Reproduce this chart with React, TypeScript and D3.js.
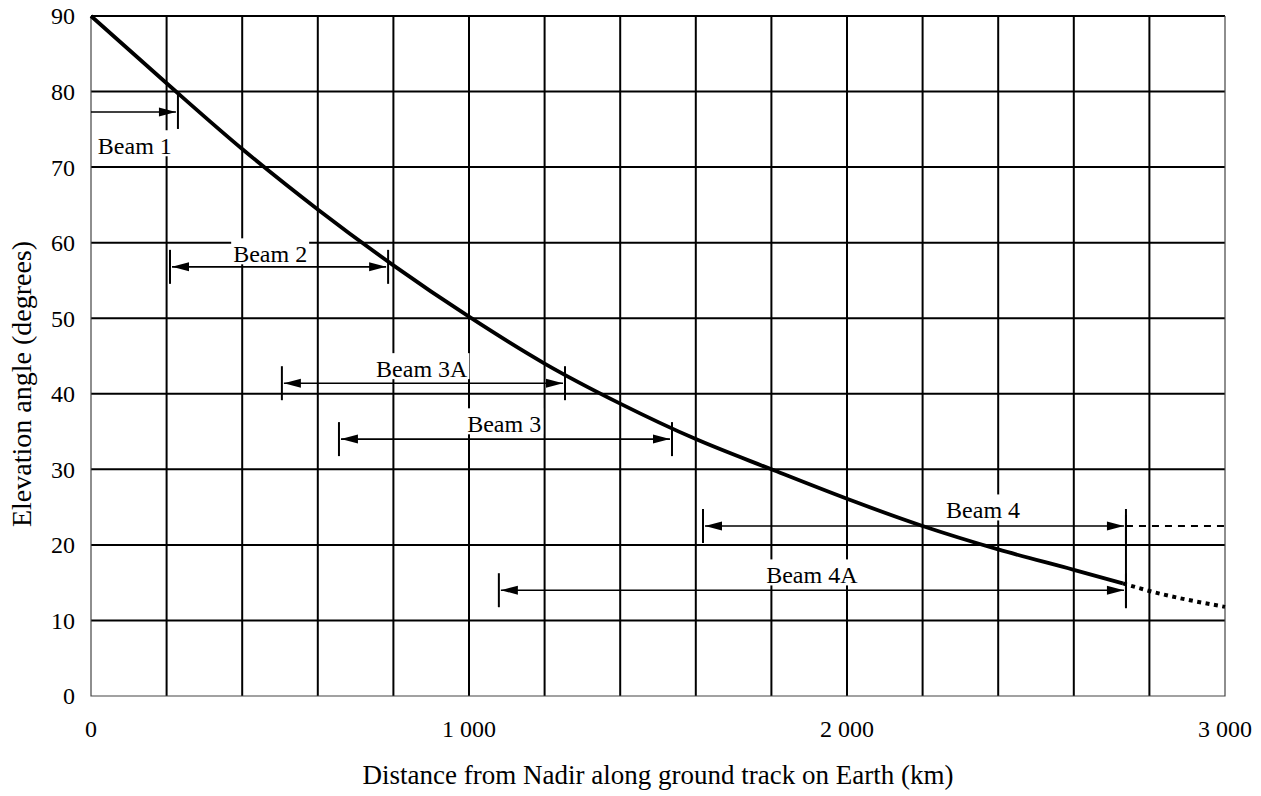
import React, { useEffect, useRef } from "react";
import * as d3 from "d3";

// ---- Data ----
const distKm = [0, 200, 400, 600, 800, 1000, 1200, 1400, 1600, 1800, 2000, 2200, 2400, 2600, 2730];
const elevDeg = [90, 81.1, 72.4, 64.4, 57.0, 50.2, 44.0, 38.7, 34.0, 30.0, 26.1, 22.5, 19.4, 16.7, 14.9];
const extKm = [2730, 2800, 3000];
const extDeg = [14.9, 13.9, 11.8];

const beamNames = ["Beam 1", "Beam 2", "Beam 3A", "Beam 3", "Beam 4", "Beam 4A"];
const beamStartKm = [0, 209, 505, 656, 1619, 1079];
const beamEndKm = [230, 786, 1254, 1537, 2738, 2738];
const beamElev = [77.3, 56.8, 41.4, 34.0, 22.5, 14.0];
const beamLabelKm = [116, 474, 875, 1093, 2360, 1907];
const beamLabelDeg = [71.7, 57.4, 42.2, 34.9, 23.5, 14.9];
const beam4ExtKm = [2738, 3000];

const xTickValues = [0, 1000, 2000, 3000];
const xGridValues = d3.range(200, 3000, 200);
const yTickValues = d3.range(0, 91, 10);
const yGridValues = d3.range(10, 91, 10);

const xTitle = "Distance from Nadir along ground track on Earth (km)";
const yTitle = "Elevation angle (degrees)";

const W = 1261;
const H = 796;
const M = { left: 91, right: 1225, top: 16, bottom: 696 };
const FONT = "'Liberation Serif', 'Times New Roman', Times, serif";

export default function App() {
  const ref = useRef<SVGSVGElement | null>(null);

  useEffect(() => {
    const svg = d3.select(ref.current);
    svg.selectAll("*").remove();

    const x = d3.scaleLinear().domain([0, 3000]).range([M.left, M.right]);
    const y = d3.scaleLinear().domain([0, 90]).range([M.bottom, M.top]);

    const g = svg.append("g");

    // Grid
    g.selectAll("line.vg")
      .data(xGridValues)
      .join("line")
      .attr("x1", (d) => x(d))
      .attr("x2", (d) => x(d))
      .attr("y1", M.top)
      .attr("y2", M.bottom)
      .attr("stroke", "#000")
      .attr("stroke-width", 2);
    g.selectAll("line.hg")
      .data(yGridValues)
      .join("line")
      .attr("x1", M.left)
      .attr("x2", M.right)
      .attr("y1", (d) => y(d))
      .attr("y2", (d) => y(d))
      .attr("stroke", "#000")
      .attr("stroke-width", 2);

    // Frame (thin)
    g.append("path")
      .attr("d", `M${M.left},${M.top}V${M.bottom}H${M.right}V${M.top}`)
      .attr("fill", "none")
      .attr("stroke", "#444")
      .attr("stroke-width", 1.2);

    // Tick labels
    g.selectAll("text.yt")
      .data(yTickValues)
      .join("text")
      .attr("x", 75)
      .attr("y", (d) => y(d))
      .attr("dy", "0.35em")
      .attr("text-anchor", "end")
      .attr("font-family", FONT)
      .attr("font-size", 24)
      .text((d) => String(d));
    g.selectAll("text.xt")
      .data(xTickValues)
      .join("text")
      .attr("x", (d) => x(d))
      .attr("y", 737)
      .attr("text-anchor", "middle")
      .attr("font-family", FONT)
      .attr("font-size", 24)
      .text((d) => (d >= 1000 ? `${Math.floor(d / 1000)} ${String(d % 1000).padStart(3, "0")}` : String(d)));

    // Axis titles
    g.append("text")
      .attr("x", (M.left + M.right) / 2)
      .attr("y", 784)
      .attr("text-anchor", "middle")
      .attr("font-family", FONT)
      .attr("font-size", 27)
      .text(xTitle);
    g.append("text")
      .attr("transform", `translate(31,384) rotate(-90)`)
      .attr("text-anchor", "middle")
      .attr("font-family", FONT)
      .attr("font-size", 28)
      .text(yTitle);

    // Beam labels with white background
    beamNames.forEach((name, i) => {
      const lg = g.append("g");
      const rect = lg.append("rect").attr("fill", "#fff");
      const t = lg
        .append("text")
        .attr("x", x(beamLabelKm[i]))
        .attr("y", y(beamLabelDeg[i]))
        .attr("text-anchor", "middle")
        .attr("font-family", FONT)
        .attr("font-size", 24)
        .text(name);
      const node = t.node() as SVGTextElement;
      const w = node.getComputedTextLength();
      const bx = x(beamLabelKm[i]) - w / 2 - 2;
      const by = y(beamLabelDeg[i]) - 24;
      rect.attr("x", bx).attr("y", by).attr("width", w + 4).attr("height", 26);
    });

    // Curve
    const solidPts: [number, number][] = distKm.map((d, i) => [x(d), y(elevDeg[i])]);
    const extPts: [number, number][] = extKm.map((d, i) => [x(d), y(extDeg[i])]);
    const lineGen = d3.line().curve(d3.curveMonotoneX);
    g.append("path")
      .attr("d", lineGen(solidPts) as string)
      .attr("fill", "none")
      .attr("stroke", "#000")
      .attr("stroke-width", 3.8);
    g.append("path")
      .attr("d", lineGen(extPts) as string)
      .attr("fill", "none")
      .attr("stroke", "#000")
      .attr("stroke-width", 4)
      .attr("stroke-dasharray", "4,4.5");

    // Beam 4 dashed extension
    g.append("line")
      .attr("x1", x(beam4ExtKm[0]))
      .attr("x2", x(beam4ExtKm[1]))
      .attr("y1", y(beamElev[4]))
      .attr("y2", y(beamElev[4]))
      .attr("stroke", "#000")
      .attr("stroke-width", 1.8)
      .attr("stroke-dasharray", "7,6");

    // Beam arrows
    const AL = 17;
    const AW = 4.5;
    const TH = 17;
    beamNames.forEach((_, i) => {
      const yy = y(beamElev[i]);
      const xs = x(beamStartKm[i]);
      const xe = x(beamEndKm[i]);
      const hasLeft = beamStartKm[i] > 0;
      const x0 = hasLeft ? xs + 2 : xs;
      const x1 = xe - 2;
      g.append("line")
        .attr("x1", x0)
        .attr("x2", x1)
        .attr("y1", yy)
        .attr("y2", yy)
        .attr("stroke", "#000")
        .attr("stroke-width", 1.6);
      g.append("path")
        .attr("d", `M${x1},${yy}L${x1 - AL},${yy - AW}L${x1 - AL},${yy + AW}Z`)
        .attr("fill", "#000");
      if (hasLeft) {
        g.append("path")
          .attr("d", `M${x0},${yy}L${x0 + AL},${yy - AW}L${x0 + AL},${yy + AW}Z`)
          .attr("fill", "#000");
        g.append("line")
          .attr("x1", xs)
          .attr("x2", xs)
          .attr("y1", yy - TH)
          .attr("y2", yy + TH)
          .attr("stroke", "#000")
          .attr("stroke-width", 2);
      }
      g.append("line")
        .attr("x1", xe)
        .attr("x2", xe)
        .attr("y1", yy - TH)
        .attr("y2", yy + TH)
        .attr("stroke", "#000")
        .attr("stroke-width", 2);
    });
    // shared end tick for Beam 4 / Beam 4A
    g.append("line")
      .attr("x1", x(beamEndKm[4]))
      .attr("x2", x(beamEndKm[4]))
      .attr("y1", y(beamElev[4]) - 11)
      .attr("y2", y(beamElev[5]) + 18)
      .attr("stroke", "#000")
      .attr("stroke-width", 2);
  }, []);

  return (
    <svg
      ref={ref}
      width={W}
      height={H}
      style={{ position: "absolute", left: 0, top: 0, background: "#fff" }}
    />
  );
}
